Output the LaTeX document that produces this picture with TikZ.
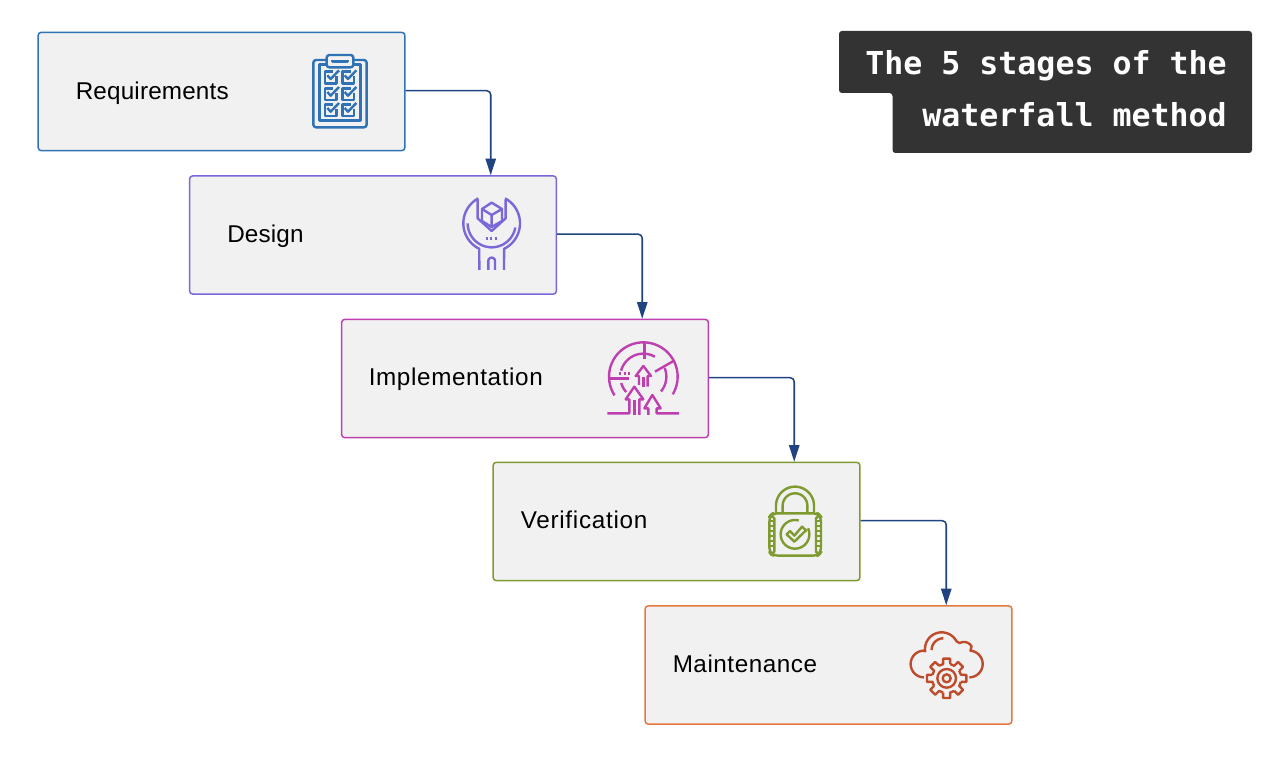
\documentclass[tikz,border=0pt]{standalone}
\usepackage{fontspec}
\setmainfont{Liberation Sans}
\newfontfamily\titlefont[Scale=1]{DejaVu Sans Mono}
\usetikzlibrary{arrows.meta,calc}
\definecolor{cBlue}{HTML}{2F72B5}
\definecolor{cPurple}{HTML}{7B68D8}
\definecolor{cMagenta}{HTML}{BE3FB0}
\definecolor{cOlive}{HTML}{7F9A2E}
\definecolor{cOrange}{HTML}{E5793F}
\definecolor{cRust}{HTML}{BE4C2C}
\definecolor{cBoxFill}{HTML}{F1F1F1}
\definecolor{cConn}{HTML}{1F4480}
\definecolor{cDark}{HTML}{333333}
\newcommand{\zarc}[5]{plot[domain=#4:#5,samples=40]({#1+#3*cos(\x)},{#2-#3*sin(\x)})}
\newcommand{\zarcc}[5]{-- plot[domain=#4:#5,samples=40]({#1+#3*cos(\x)},{#2-#3*sin(\x)})}
\tikzset{
  stagebox/.style={draw=#1,fill=cBoxFill,line width=1.1pt,rounded corners=2.2pt,minimum width=275pt,minimum height=88.6pt,inner sep=0pt},
  stagelabel/.style={anchor=base west,inner sep=0pt,text=black,font=\fontsize{18.2}{22}\selectfont\addfontfeature{LetterSpace=#1}},
  titletext/.style={anchor=base east,inner sep=0pt,text=white,font=\titlefont\bfseries\fontsize{23.7}{28}\selectfont},
  conn/.style={draw=cConn,line width=1.15pt,rounded corners=3pt,-{Triangle[length=12.5pt,width=7.8pt]}},
  iconscope/.style={x=.25pt,y=-.25pt,line width=1.8pt,draw=#1,line cap=butt,line join=round}
}
\begin{document}
\begin{tikzpicture}[x=.75pt,y=.75pt]
\useasboundingbox (0,0) rectangle (1272,758);
\fill[white] (0,0) rectangle (1272,758);

% boxes
\node[stagebox=cBlue]    (b1) at (221.5,666.5) {};
\node[stagebox=cPurple]  (b2) at (373,523)     {};
\node[stagebox=cMagenta] (b3) at (525,379.5)   {};
\node[stagebox=cOlive]   (b4) at (676.5,236.5) {};
\node[stagebox=cOrange]  (b5) at (828.5,93)    {};

% labels
\node[stagelabel=0.7] (l1) at (75.5,658.2)  {Requirements};
\node[stagelabel=0.7] (l2) at (227,515.2) {Design};
\node[stagelabel=2.6] (l3) at (368.5,372.2) {Implementation};
\node[stagelabel=3.0] (l4) at (520.5,229.2) {Verification};
\node[stagelabel=2.2] (l5) at (672.5,85.2)  {Maintenance};

% connectors
\coordinate (t2) at ($(b2.north west)+(301.8,0)$);
\coordinate (t3) at ($(b3.north west)+(301.3,0)$);
\coordinate (t4) at ($(b4.north west)+(301.8,0)$);
\coordinate (t5) at ($(b5.north west)+(301.8,0)$);
\draw[conn] ([yshift=.6pt]b1.east) -| (t2);
\draw[conn] ([yshift=.6pt]b2.east) -| (t3);
\draw[conn] ([yshift=.6pt]b3.east) -| (t4);
\draw[conn] ([yshift=.6pt]b4.east) -| (t5);

% title
\fill[cDark,rounded corners=2.2pt] (839,727) -- (1252,727) -- (1252,605) -- (892.5,605) -- (892.5,665) -- (839,665) -- cycle;
\node[titletext] (t1l) at (1227,683.5) {The 5 stages of the};
\node[titletext] (t2l) at (1227,631.5) {waterfall method};

% icon 1: clipboard
\begin{scope}[shift={(290,718)},iconscope=cBlue]
  \draw[rounded corners=2pt] (110,60) -- (70,60) -- (70,262) -- (230,262) -- (230,60) -- (190,60);
  \draw[rounded corners=2pt] (110,45) rectangle (190,82);
  \draw (128,60) -- (128,65) -- (172,65) -- (172,60);
  \draw (110,73) -- (88,73) -- (88,242) -- (212,242) -- (212,73) -- (190,73);
  \foreach \dx in {0,52} \foreach \dy in {0,50,98} {
    \draw[shift={(\dx,\dy)}] (140,108) -- (140,130) -- (105,130) -- (105,95) -- (130,95);
    \draw[shift={(\dx,\dy)}] (112,106) -- (122,117) -- (147,91);
  }
\end{scope}

% icon 2: wrench
\begin{scope}[shift={(445,573)},iconscope=cPurple]
  \draw \zarc{140}{115}{85}{118}{244} -- (103,255);
  \draw \zarc{140}{115}{85}{62}{-64} -- (177,255);
  \draw \zarc{140}{115}{72}{180}{350};
  \draw (98,45) -- (98,100) -- (140,138) -- (182,100) -- (182,45);
  \draw (140,53) -- (171,72) -- (171,108) -- (140,126) -- (111,108) -- (111,72) -- cycle;
  \draw (111,72) -- (140,90) -- (171,72) (140,90) -- (140,126);
  \draw[dash pattern=on 1.7pt off 1.7pt] (122,160) -- (160,160);
  \draw (130,255) -- (130,228) \zarcc{140}{228}{10}{180}{0} -- (150,255);
\end{scope}

% icon 3: radar
\begin{scope}[shift={(595,428)},iconscope=cMagenta]
  \draw \zarc{145}{140}{103}{213}{-31};
  \draw \zarc{145}{140}{69}{165}{60};
  \draw \zarc{145}{140}{69}{22}{-40};
  \draw \zarc{145}{140}{69}{196}{222};
  \draw (148,37) -- (148,88);
  \draw (180,125) -- (237,92);
  \draw (40,145) -- (103,145);
  \draw[dash pattern=on 1.7pt off 1.7pt] (72,130) -- (106,130);
  % arrows
  \draw (132,165) -- (132,138) -- (122,138) -- (145,108) -- (168,138) -- (158,138) -- (158,170);
  \draw (145,140) -- (145,170);
  \draw (37,250) -- (103,250) -- (103,208) -- (92,208) -- (118,170) -- (145,208) -- (133,208) -- (133,255);
  \draw (118,210) -- (118,255);
  \draw (160,255) -- (160,235) -- (148,235) -- (172,195) -- (197,235) -- (185,235) -- (185,250) -- (252,250);
\end{scope}

% icon 4: padlock
\begin{scope}[shift={(750,283)},iconscope=cOlive]
  \draw (78,115) -- (78,92) \zarcc{135}{92}{57}{180}{0} -- (192,115);
  \draw (98,113) -- (98,92) \zarcc{135}{92}{37}{180}{0} -- (172,113);
  \draw[rounded corners=4pt] (58,125) -- (58,232) -- (70,242) -- (203,242) -- (213,232) -- (213,125) -- (203,115) -- (68,115) -- cycle;
  \draw (60,117) -- (73,130) -- (73,230) -- (60,240);
  \draw (211,117) -- (198,130) -- (198,230) -- (211,240);
  \foreach \yy in {138,153,168,183,198,213}
    \draw (60,\yy) -- (73,\yy) (198,\yy) -- (211,\yy);
  \draw \zarc{135}{178}{43}{25}{-285};
  \draw (110,178) -- (120,168) -- (133,182) -- (156,155) -- (168,166) -- (133,200) -- cycle;
\end{scope}

% icon 5: cloud and gear
\begin{scope}[shift={(900,138)},iconscope=cRust]
  \draw \zarc{72}{132}{40}{-90}{-270} \zarcc{125}{87}{50}{188}{28} \zarcc{192}{92}{26}{120}{30} \zarcc{208}{132}{40}{85}{-90};
  \draw \zarc{130}{90}{35}{180}{90};
  \foreach \a in {0,45,...,315}
    \draw ({140+44*cos(\a-14)},{175-44*sin(\a-14)}) -- ({140+60*cos(\a-10)},{175-60*sin(\a-10)}) -- ({140+60*cos(\a+10)},{175-60*sin(\a+10)}) -- ({140+44*cos(\a+14)},{175-44*sin(\a+14)}) -- ({140+44*cos(\a+31)},{175-44*sin(\a+31)});
  \draw (140,175) circle[radius=28];
  \draw (140,175) circle[radius=12];
\end{scope}
\end{tikzpicture}
\end{document}
